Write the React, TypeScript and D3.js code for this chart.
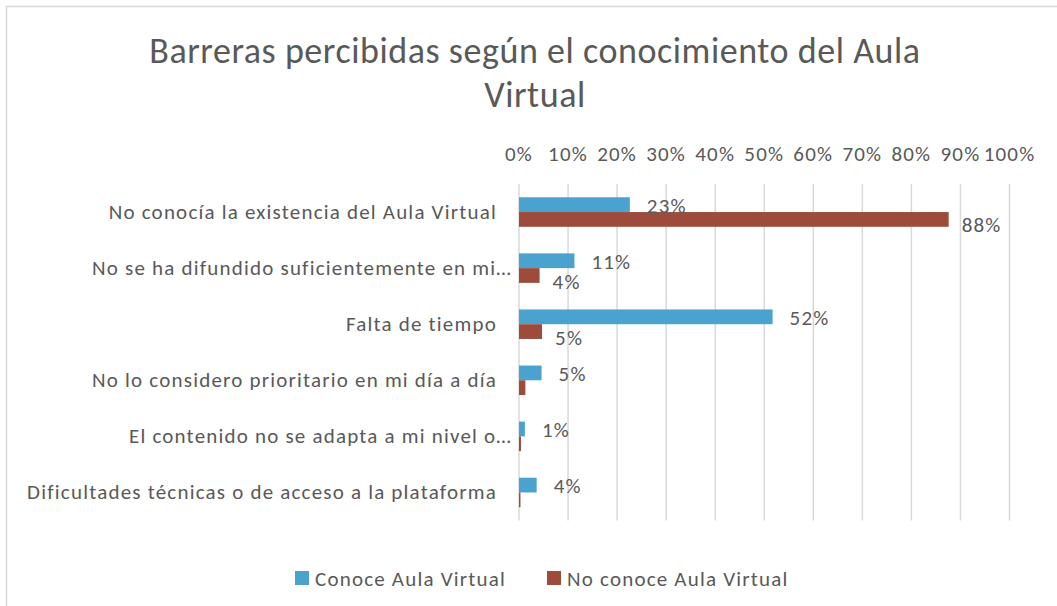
import * as d3 from 'd3';

const categories = [
  'No conocía la existencia del Aula Virtual',
  'No se ha difundido suficientemente en mi…',
  'Falta de tiempo',
  'No lo considero prioritario en mi día a día',
  'El contenido no se adapta a mi nivel o…',
  'Dificultades técnicas o de acceso a la plataforma',
];
const seriesNames = ['Conoce Aula Virtual', 'No conoce Aula Virtual'];
const conoce = [0.226, 0.113, 0.517, 0.046, 0.012, 0.036];
const noConoce = [0.876, 0.042, 0.047, 0.013, 0.004, 0.003];
// labels of the red series were only kept on the first three rows
const noConoceLabels = [true, true, true, false, false, false];
const ticks = [0, 0.1, 0.2, 0.3, 0.4, 0.5, 0.6, 0.7, 0.8, 0.9, 1];

const W = 1057;
const H = 606;
const colors = ['#4aa3cf', '#9d4c3b'];
const textColor = '#595959';
const font = "Calibri, Carlito, Lato, 'Open Sans', sans-serif";
const fs = 21;
const ls = 1.2;

export default function App() {
  const x = d3.scaleLinear().domain([0, 1]).range([519, 1009.5]);
  const yRow = d3.scaleBand<string>().domain(categories).range([184, 520.5]).padding(0);
  const ySer = d3
    .scaleBand<string>()
    .domain(seriesNames)
    .range([0, yRow.bandwidth()])
    .paddingInner(0)
    .paddingOuter(0.9);
  const pct = d3.format('.0%');
  const series = [conoce, noConoce];

  return (
    <svg
      width={W}
      height={H}
      style={{ position: 'absolute', left: 0, top: 0, fontFamily: font }}
    >
      <rect x={0} y={0} width={W} height={H} fill="#fff" />
      <rect x={6.5} y={6.5} width={W + 10} height={H + 10} fill="none" stroke="#d9d9d9" strokeWidth={1.5} />

      <text x={535} y={63} textAnchor="middle" fontSize={36} letterSpacing={0.55} fill={textColor}>
        Barreras percibidas según el conocimiento del Aula
      </text>
      <text x={535} y={107} textAnchor="middle" fontSize={36} letterSpacing={0.55} fill={textColor}>
        Virtual
      </text>

      {/* gridlines + top axis labels */}
      {ticks.map((t) => (
        <g key={t}>
          <line
            x1={x(t)}
            x2={x(t)}
            y1={yRow.range()[0]}
            y2={yRow.range()[1]}
            stroke="#d9d9d9"
            strokeWidth={1.5}
          />
          <text x={x(t)} y={161} textAnchor="middle" fontSize={fs} letterSpacing={ls} fill={textColor}>
            {pct(t)}
          </text>
        </g>
      ))}

      {/* category labels */}
      {categories.map((c) => (
        <text
          key={c}
          x={x(0) - (c.endsWith('…') ? 7 : 22)}
          y={(yRow(c) as number) + yRow.bandwidth() / 2 + 7}
          textAnchor="end"
          fontSize={fs}
          letterSpacing={ls}
          fill={textColor}
        >
          {c}
        </text>
      ))}

      {/* bars */}
      {series.map((vals, si) =>
        categories.map((c, i) => {
          const y0 = (yRow(c) as number) + (ySer(seriesNames[si]) as number);
          return (
            <rect
              key={si + '-' + i}
              x={x(0)}
              y={y0}
              width={x(vals[i]) - x(0)}
              height={ySer.bandwidth()}
              fill={colors[si]}
            />
          );
        })
      )}

      {/* data labels */}
      {categories.map((c, i) => {
        const yb = (yRow(c) as number) + (ySer(seriesNames[0]) as number) + ySer.bandwidth() / 2;
        return (
          <text key={'lc' + i} x={x(conoce[i]) + 17} y={yb + 8} fontSize={fs} letterSpacing={ls} fill={textColor}>
            {pct(conoce[i])}
          </text>
        );
      })}
      {categories.map((c, i) => {
        if (!noConoceLabels[i]) return null;
        const yb = (yRow(c) as number) + (ySer(seriesNames[1]) as number) + ySer.bandwidth() / 2;
        return (
          <text key={'ln' + i} x={x(noConoce[i]) + 13} y={yb + 13} fontSize={fs} letterSpacing={ls} fill={textColor}>
            {pct(noConoce[i])}
          </text>
        );
      })}

      {/* legend */}
      <rect x={295} y={571} width={14} height={14} fill={colors[0]} />
      <text x={315} y={586} fontSize={fs} letterSpacing={ls} fill={textColor}>
        {seriesNames[0]}
      </text>
      <rect x={547} y={571} width={14} height={14} fill={colors[1]} />
      <text x={567} y={586} fontSize={fs} letterSpacing={ls} fill={textColor}>
        {seriesNames[1]}
      </text>
    </svg>
  );
}
